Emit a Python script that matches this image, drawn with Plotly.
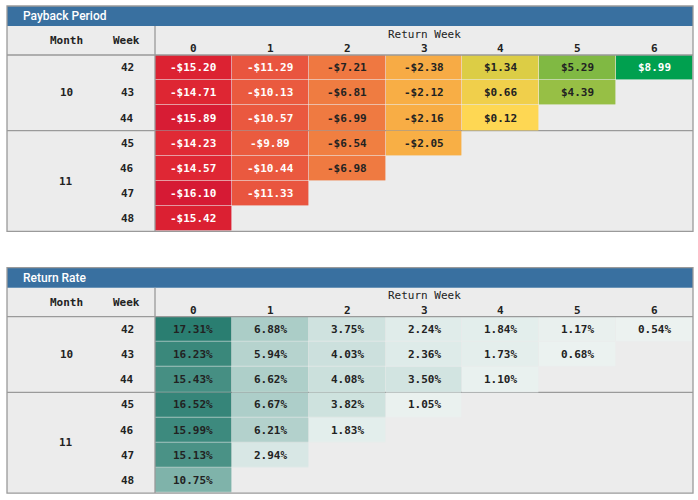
import plotly.graph_objects as go

# ---------------- data ----------------
months = [10, 10, 10, 11, 11, 11, 11]
weeks = [42, 43, 44, 45, 46, 47, 48]
return_weeks = [0, 1, 2, 3, 4, 5, 6]

payback = [
    [-15.20, -11.29, -7.21, -2.38, 1.34, 5.29, 8.99],
    [-14.71, -10.13, -6.81, -2.12, 0.66, 4.39, None],
    [-15.89, -10.57, -6.99, -2.16, 0.12, None, None],
    [-14.23, -9.89, -6.54, -2.05, None, None, None],
    [-14.57, -10.44, -6.98, None, None, None, None],
    [-16.10, -11.33, None, None, None, None, None],
    [-15.42, None, None, None, None, None, None],
]
return_rate = [
    [17.31, 6.88, 3.75, 2.24, 1.84, 1.17, 0.54],
    [16.23, 5.94, 4.03, 2.36, 1.73, 0.68, None],
    [15.43, 6.62, 4.08, 3.50, 1.10, None, None],
    [16.52, 6.67, 3.82, 1.05, None, None, None],
    [15.99, 6.21, 1.83, None, None, None, None],
    [15.13, 2.94, None, None, None, None, None],
    [10.75, None, None, None, None, None, None],
]
titles = ["Payback Period", "Return Rate"]

# ---------------- styling ----------------
W, H = 698, 500
MONO = "DejaVu Sans Mono"
SANS = "Roboto"
BG = "#ececec"
BAR = "#3970a0"
LINE = "#9a9a9a"
TXT = "#222222"

pay_stops = [(-16.10, "#d61a34"), (-15.2, "#dc2232"), (-14.2, "#e02a35"),
             (-11.3, "#e9553f"), (-9.9, "#ea5b3f"), (-7.0, "#ef7a41"),
             (-2.1, "#f8ae45"), (0.12, "#fed753"), (0.66, "#f0cf4b"),
             (1.34, "#dccd45"), (4.39, "#97bf45"), (5.29, "#80b943"),
             (8.99, "#00a04f")]
rate_stops = [(0.0, "#eef3f2"), (1.0, "#eaf1ef"), (2.2, "#e0ecea"),
              (3.75, "#cfe2df"), (6.88, "#abcdc7"), (10.75, "#7fb3aa"),
              (15.13, "#4a9286"), (17.31, "#2a7e71")]


def scale(stops):
    lo, hi = stops[0][0], stops[-1][0]
    return [[(v - lo) / (hi - lo), c] for v, c in stops], lo, hi


def X(px):
    return px / W


def Y(py):
    return 1 - py / H


panel_tops = [6.0, 267.7]
LEFT, RIGHT, DIV = 7.0, 693.0, 155.0
TITLE_H, HEAD_H, ROW_H = 20.0, 29.0, 25.2
NR = len(weeks)

fig = go.Figure()
shapes, annotations = [], []

datasets = [
    (payback, pay_stops, lambda v: ("-$%.2f" % -v) if v < 0 else ("$%.2f" % v),
     lambda v: "white" if (v <= -9 or v >= 7) else TXT),
    (return_rate, rate_stops, lambda v: "%.2f%%" % v, lambda v: TXT),
]

for k, (data, stops, fmt, tcol) in enumerate(datasets):
    top = panel_tops[k]
    head_top = top + TITLE_H
    cell_top = head_top + HEAD_H
    bottom = cell_top + NR * ROW_H
    xa = "x" if k == 0 else "x2"
    ya = "y" if k == 0 else "y2"

    cs, lo, hi = scale(stops)
    fig.add_trace(go.Heatmap(
        z=data, x=return_weeks, y=list(range(NR)),
        colorscale=cs, zmin=lo, zmax=hi, showscale=False,
        hoverinfo="skip", xgap=0.6, ygap=0.6, xaxis=xa, yaxis=ya))

    axkey = "" if k == 0 else "2"
    fig.update_layout(**{
        "xaxis" + axkey: dict(domain=[X(DIV), X(RIGHT)], range=[-0.5, len(return_weeks) - 0.5],
                              visible=False, fixedrange=True, anchor=ya),
        "yaxis" + axkey: dict(domain=[Y(bottom), Y(cell_top)], range=[NR - 0.5, -0.5],
                              visible=False, fixedrange=True, anchor=xa),
    })

    # backgrounds
    shapes.append(dict(type="rect", xref="paper", yref="paper", x0=X(LEFT), x1=X(RIGHT),
                       y0=Y(bottom), y1=Y(head_top), fillcolor=BG, line_width=0, layer="below"))
    shapes.append(dict(type="rect", xref="paper", yref="paper", x0=X(LEFT), x1=X(RIGHT),
                       y0=Y(head_top), y1=Y(top), fillcolor=BAR, line_width=0, layer="below"))
    # month separator lines
    for i in range(1, NR):
        if months[i] != months[i - 1]:
            yy = cell_top + i * ROW_H
            shapes.append(dict(type="line", xref="paper", yref="paper", x0=X(LEFT), x1=X(RIGHT),
                               y0=Y(yy), y1=Y(yy), line=dict(color=LINE, width=1.3), layer="below"))
    # header line and divider
    shapes.append(dict(type="line", xref="paper", yref="paper", x0=X(LEFT), x1=X(RIGHT),
                       y0=Y(cell_top), y1=Y(cell_top), line=dict(color=LINE, width=1.3)))
    shapes.append(dict(type="line", xref="paper", yref="paper", x0=X(DIV), x1=X(DIV),
                       y0=Y(bottom), y1=Y(head_top), line=dict(color=LINE, width=1.3)))
    # outer border
    shapes.append(dict(type="rect", xref="paper", yref="paper", x0=X(LEFT), x1=X(RIGHT),
                       y0=Y(bottom), y1=Y(top), line=dict(color=LINE, width=1.3)))

    # title
    annotations.append(dict(text=titles[k], xref="paper", yref="paper", x=X(21), y=Y(top + 10),
                            xanchor="left", yanchor="middle", showarrow=False,
                            font=dict(family=SANS, size=12, color="white", weight=500)))
    # header texts
    annotations.append(dict(text="Month", xref="paper", yref="paper", x=X(66), y=Y(top + 35),
                            xanchor="center", yanchor="middle", showarrow=False,
                            font=dict(family=MONO, size=11, color=TXT, weight="bold")))
    annotations.append(dict(text="Week", xref="paper", yref="paper", x=X(142), y=Y(top + 35),
                            xanchor="right", yanchor="middle", showarrow=False,
                            font=dict(family=MONO, size=11, color=TXT, weight="bold")))
    annotations.append(dict(text="Return Week", xref="paper", yref="paper",
                            x=X((DIV + RIGHT) / 2), y=Y(top + 28),
                            xanchor="center", yanchor="middle", showarrow=False,
                            font=dict(family=MONO, size=11, color=TXT)))
    for c in return_weeks:
        annotations.append(dict(text=str(c), xref=xa, yref="paper", x=c, y=Y(top + 42.5),
                                xanchor="center", yanchor="middle", showarrow=False,
                                font=dict(family=MONO, size=11, color=TXT, weight="bold")))
    # row labels
    for r, wk in enumerate(weeks):
        annotations.append(dict(text=str(wk), xref="paper", yref=ya, x=X(135.5), y=r,
                                xanchor="right", yanchor="middle", showarrow=False,
                                font=dict(family=MONO, size=11, color=TXT, weight="bold")))
    for m in sorted(set(months)):
        rows = [i for i, mm in enumerate(months) if mm == m]
        annotations.append(dict(text=str(m), xref="paper", yref=ya, x=X(66),
                                y=(rows[0] + rows[-1]) / 2,
                                xanchor="center", yanchor="middle", showarrow=False,
                                font=dict(family=MONO, size=11, color=TXT, weight="bold")))
    # cell texts
    for r, row in enumerate(data):
        for c, v in enumerate(row):
            if v is None:
                continue
            annotations.append(dict(text=fmt(v), xref=xa, yref=ya, x=return_weeks[c], y=r,
                                    xanchor="center", yanchor="middle", showarrow=False,
                                    font=dict(family=MONO, size=11, color=tcol(v), weight="bold")))

fig.update_layout(width=W, height=H, margin=dict(l=0, r=0, t=0, b=0),
                  paper_bgcolor="white", plot_bgcolor="rgba(0,0,0,0)",
                  shapes=shapes, annotations=annotations, showlegend=False)
fig.write_html("out.html", config={"displayModeBar": False},
               post_script="document.body.style.margin='0px';document.body.style.overflow='hidden';")
